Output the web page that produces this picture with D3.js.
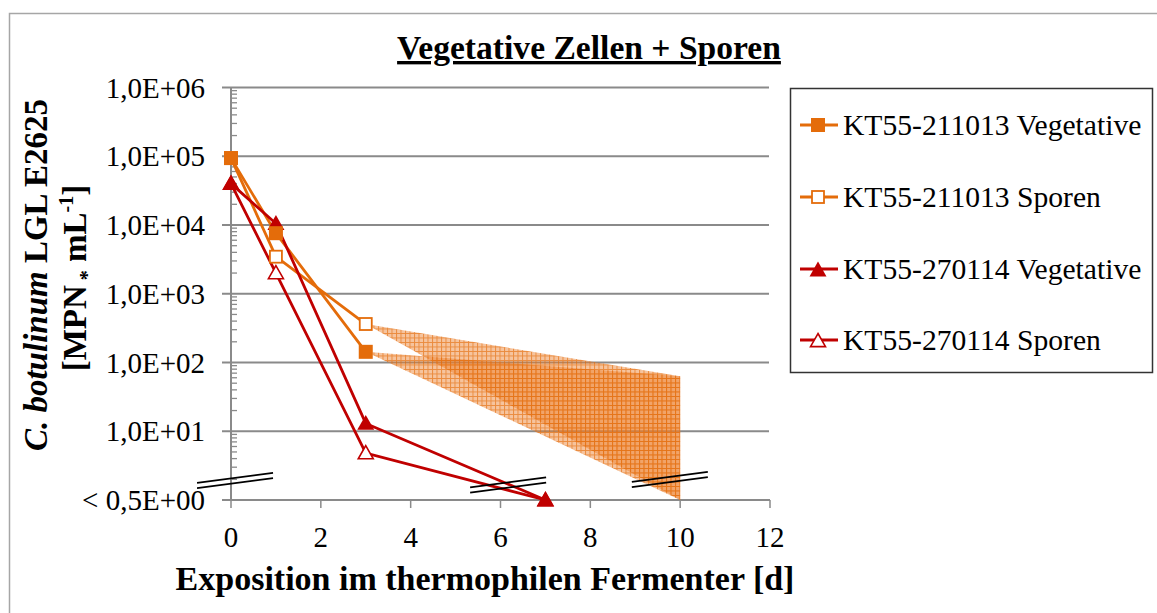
<!DOCTYPE html>
<html><head><meta charset="utf-8">
<script src="https://cdn.jsdelivr.net/npm/d3@7"></script>
<style>body{margin:0;background:#fff}svg{display:block}text{font-family:'Liberation Serif','DejaVu Serif',serif}</style>
</head><body><svg id="c" width="1157" height="613"></svg>
<script>
// ---- data ----
const title = "Vegetative Zellen + Sporen";
const xTitle = "Exposition im thermophilen Fermenter [d]";
const xTicks = [0, 2, 4, 6, 8, 10, 12];
const yTicks = [1, 1e1, 1e2, 1e3, 1e4, 1e5, 1e6];
const yTickLabels = ["< 0,5E+00", "1,0E+01", "1,0E+02", "1,0E+03", "1,0E+04", "1,0E+05", "1,0E+06"];
const seriesNames = ["KT55-211013 Vegetative", "KT55-211013 Sporen", "KT55-270114 Vegetative", "KT55-270114 Sporen"];
const daysA = [0, 1, 3];
const vegA = [9.4e4, 7.6e3, 143];
const sporA = [9.4e4, 3460, 363];
const daysB = [0, 1, 3, 7];
const vegB = [4.0e4, 1.05e4, 13, 0.5];
const sporB = [4.0e4, 2000, 4.8, 0.5];
// uncertainty ranges from day 3 to day 10 (upper / lower bound at day 10)
const rangeDays = [3, 10];
const rangeUpper10 = 63;
const rangeLower10 = 0.5;
// axis-break symbols (day, value)
const breaks = [[0.09, 1.92], [6.17, 1.65], [9.77, 1.99]];

const FONT = "'Liberation Serif','DejaVu Serif',serif";
const orange = "#E46C0A", red = "#C00000", grid = "#8a8a8a";
const svg = d3.select("#c");
const x = d3.scaleLinear().domain([0, 12]).range([231, 770]);
const y = d3.scaleLog().domain([1, 1e6]).range([500, 87.5]).clamp(true);

// outer frame
svg.append("rect").attr("x", 9.5).attr("y", 13.5).attr("width", 1200).attr("height", 700)
  .attr("fill", "none").attr("stroke", "#a6a6a6").attr("stroke-width", 1.5);

// hatch pattern
const defs = svg.append("defs");
const pat = defs.append("pattern").attr("id", "hatch").attr("patternUnits", "userSpaceOnUse")
  .attr("width", 4.5).attr("height", 4.5);
pat.append("rect").attr("width", 4.5).attr("height", 4.5).attr("fill", "rgba(236,125,40,0.45)");
pat.append("path").attr("d", "M0,0.5H4.5M0.5,0V4.5").attr("stroke", "rgba(228,108,10,0.65)").attr("stroke-width", 1);

// gridlines
svg.append("g").selectAll("line").data(yTicks.slice(1)).join("line")
  .attr("x1", 222).attr("x2", 769).attr("y1", d => y(d)).attr("y2", d => y(d))
  .attr("stroke", grid).attr("stroke-width", 2);

// minor ticks (inside)
const minors = [];
for (let k = 0; k < 6; k++) for (let m = 2; m <= 9; m++) minors.push(m * Math.pow(10, k));
svg.append("g").selectAll("line").data(minors).join("line")
  .attr("x1", 231).attr("x2", 237).attr("y1", d => y(d)).attr("y2", d => y(d))
  .attr("stroke", grid).attr("stroke-width", 1.3);

// axes lines
svg.append("line").attr("x1", x(0)).attr("x2", x(0)).attr("y1", y(1e6)).attr("y2", y(1))
  .attr("stroke", grid).attr("stroke-width", 2);
svg.append("line").attr("x1", 222).attr("x2", x(12)).attr("y1", y(1)).attr("y2", y(1))
  .attr("stroke", grid).attr("stroke-width", 2);
svg.append("g").selectAll("line").data(xTicks).join("line")
  .attr("x1", d => x(d)).attr("x2", d => x(d)).attr("y1", y(1)).attr("y2", y(1) + 8)
  .attr("stroke", grid).attr("stroke-width", 1.5);

// tick labels
svg.append("g").selectAll("text").data(yTicks).join("text")
  .attr("font-family", FONT)
  .attr("x", 205).attr("y", d => y(d) + 10).attr("text-anchor", "end")
  .attr("font-size", 29).text((d, i) => yTickLabels[i]);
svg.append("g").selectAll("text").data(xTicks).join("text")
  .attr("font-family", FONT)
  .attr("x", d => x(d)).attr("y", 547).attr("text-anchor", "middle")
  .attr("font-size", 29).text(d => d);

// shaded ranges
const polys = [sporA[2], vegA[2]].map(v => [[rangeDays[0], v], [rangeDays[1], rangeUpper10], [rangeDays[1], rangeLower10]]);
svg.append("g").selectAll("path").data(polys).join("path")
  .attr("d", p => "M" + p.map(q => [x(q[0]), y(q[1])].join(",")).join("L") + "Z")
  .attr("fill", "url(#hatch)");

// lines
const line = d3.line().x(d => x(d[0])).y(d => y(d[1]));
const series = [
  {days: daysA, vals: vegA, color: orange, shape: "square", filled: true},
  {days: daysA, vals: sporA, color: orange, shape: "square", filled: false},
  {days: daysB, vals: vegB, color: red, shape: "triangle", filled: true},
  {days: daysB, vals: sporB, color: red, shape: "triangle", filled: false}
];
series.forEach(s => {
  svg.append("path").attr("d", line(s.days.map((d, i) => [d, s.vals[i]])))
    .attr("fill", "none").attr("stroke", s.color).attr("stroke-width", 2.8);
});
function marker(g, s, cx, cy) {
  if (s.shape === "square") {
    const h = s.filled ? 7 : 6;
    g.append("rect").attr("x", cx - h).attr("y", cy - h).attr("width", 2 * h).attr("height", 2 * h)
      .attr("fill", s.filled ? s.color : "#fff").attr("stroke", s.color).attr("stroke-width", s.filled ? 0 : 1.8);
  } else {
    const h = s.filled ? 8.5 : 7.5;
    g.append("path").attr("d", `M${cx},${cy - h}L${cx + h},${cy + h * 0.75}L${cx - h},${cy + h * 0.75}Z`)
      .attr("fill", s.filled ? s.color : "#fff").attr("stroke", s.color).attr("stroke-width", s.filled ? 0 : 1.6);
  }
}
const mg = svg.append("g");
[3, 1, 2, 0].forEach(k => {
  const s = series[k];
  s.days.forEach((d, i) => marker(mg, s, x(d), y(s.vals[i])));
});

// break symbols
const bg = svg.append("g");
breaks.forEach(b => {
  const cx = x(b[0]), cy = y(b[1]);
  [-2.6, 2.6].forEach(o => {
    bg.append("line").attr("x1", cx - 38).attr("y1", cy + 5 + o).attr("x2", cx + 38).attr("y2", cy - 5 + o)
      .attr("stroke", "#000").attr("stroke-width", 1.8);
  });
});

// title
svg.append("text").attr("font-family", FONT).attr("x", 589).attr("y", 59).attr("text-anchor", "middle")
  .attr("font-size", 33.6).attr("font-weight", "bold").attr("text-decoration", "underline").text(title);
// x title
svg.append("text").attr("font-family", FONT).attr("x", 485).attr("y", 590).attr("text-anchor", "middle")
  .attr("font-size", 34).attr("font-weight", "bold").text(xTitle);
// y title
const yt = svg.append("text").attr("font-family", FONT).attr("transform", "translate(47,275) rotate(-90)")
  .attr("text-anchor", "middle").attr("font-size", 33).attr("font-weight", "bold");
yt.append("tspan").attr("font-style", "italic").text("C. botulinum");
yt.append("tspan").text(" LGL E2625");
const yt2 = svg.append("text").attr("font-family", FONT).attr("transform", "translate(86,278) rotate(-90)")
  .attr("text-anchor", "middle").attr("font-size", 33).attr("font-weight", "bold");
yt2.append("tspan").text("[MPN");
yt2.append("tspan").attr("font-size", 20).attr("dy", 8).text(" *");
yt2.append("tspan").attr("dy", -8).text(" mL");
yt2.append("tspan").attr("font-size", 20).attr("dy", -13).text("-1");
yt2.append("tspan").attr("dy", 13).text("]");

// legend
svg.append("rect").attr("x", 790.5).attr("y", 88.5).attr("width", 362).attr("height", 284)
  .attr("fill", "#fff").attr("stroke", "#333").attr("stroke-width", 1.5);
const rows = [125, 197, 269, 340];
const lg = svg.append("g");
series.forEach((s, i) => {
  lg.append("line").attr("x1", 800).attr("x2", 838).attr("y1", rows[i]).attr("y2", rows[i])
    .attr("stroke", s.color).attr("stroke-width", 2.8);
  marker(lg, s, 818, rows[i] + (s.shape === "triangle" ? 1 : 0));
  lg.append("text").attr("font-family", FONT).attr("x", 843).attr("y", rows[i] + 10).attr("font-size", 29.6).text(seriesNames[i]);
});
</script></body></html>
